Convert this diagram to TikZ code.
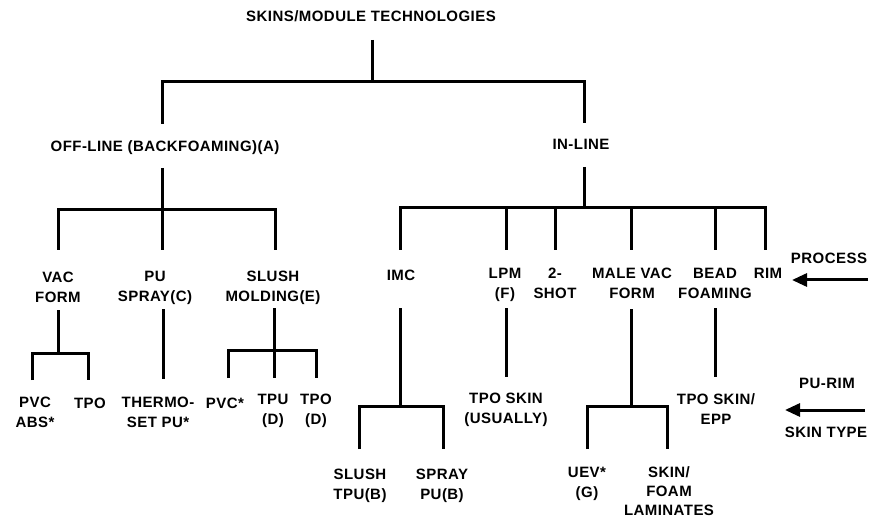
\documentclass[tikz,border=0pt]{standalone}
\usepackage{fontspec}
\setmainfont{Liberation Sans}[LetterSpace=3]
\usetikzlibrary{arrows.meta}
\begin{document}
\begin{tikzpicture}[x=1pt,y=-1pt,
  lbl/.style={font=\fontsize{15}{20}\selectfont\bfseries, align=center, inner sep=0pt, anchor=north},
  ln/.style={line width=3pt, line join=miter},
  arr/.style={line width=3pt, -{Triangle[length=15pt,width=13pt]}}]
\useasboundingbox (0,0) rectangle (869,518);
% labels
\node[lbl] (title) at (371,10) {SKINS/MODULE TECHNOLOGIES};
\node[lbl] (offline) at (165,140) {OFF-LINE (BACKFOAMING)(A)};
\node[lbl] (inline) at (581,139) {IN-LINE};
\node[lbl] (vac) at (58,272) {VAC\\FORM};
\node[lbl] (pus) at (155,271) {PU\\SPRAY(C)};
\node[lbl] (slush) at (273,271) {SLUSH\\MOLDING(E)};
\node[lbl] (imc) at (401,270) {IMC};
\node[lbl] (lpm) at (505,268) {LPM\\(F)};
\node[lbl] (shot) at (555,268) {2-\\SHOT};
\node[lbl] (male) at (632,268) {MALE VAC\\FORM};
\node[lbl] (bead) at (715,268) {BEAD\\FOAMING};
\node[lbl] (rim) at (768,268) {RIM};
\node[lbl] (process) at (829,253) {PROCESS};
\node[lbl] (pvcabs) at (35,397) {PVC\\ABS*};
\node[lbl] (tpoa) at (90,398) {TPO};
\node[lbl] (thermo) at (158,397) {THERMO-\\SET PU*};
\node[lbl] (pvcb) at (225,398) {PVC*};
\node[lbl] (tpu) at (273,394) {TPU\\(D)};
\node[lbl] (tpob) at (316,394) {TPO\\(D)};
\node[lbl] (slushtpu) at (360,469) {SLUSH\\TPU(B)};
\node[lbl] (spraypu) at (442,469) {SPRAY\\PU(B)};
\node[lbl] (tposkin) at (506,393) {TPO SKIN\\(USUALLY)};
\node[lbl] (uev) at (587,467) {UEV*\\(G)};
\node[lbl, font=\fontsize{15}{19}\selectfont\bfseries] (skinfoam) at (669,466) {SKIN/\\FOAM\\LAMINATES};
\node[lbl] (tpoepp) at (716,393) {TPO SKIN/\\EPP};
\node[lbl] (purim) at (827,378) {PU-RIM};
\node[lbl] (skintype) at (826,427) {SKIN TYPE};
% coordinates
\coordinate (t0) at (372,40); \coordinate (t1) at (372,82);
\coordinate (hl) at (162,82); \coordinate (hr) at (584,82);
\coordinate (offtop) at (162,124); \coordinate (intop) at (584,123);
\coordinate (o0) at (162,168); \coordinate (oL) at (58,210); \coordinate (oR) at (275,210);
\coordinate (a1) at (58,250); \coordinate (a2) at (162,250); \coordinate (a3) at (275,250);
\coordinate (i0) at (584,167); \coordinate (i1) at (584,208);
\coordinate (iL) at (400,208); \coordinate (iR) at (765,208);
\coordinate (b1) at (400,250); \coordinate (b2) at (506,250); \coordinate (b3) at (555,250);
\coordinate (b4) at (631,250); \coordinate (b5) at (715,250); \coordinate (b6) at (765,250);
\coordinate (v0) at (58,310); \coordinate (v1) at (58,353);
\coordinate (vL) at (32,353); \coordinate (vR) at (88,353);
\coordinate (v2) at (32,380); \coordinate (v3) at (88,380);
\coordinate (p0) at (163,309); \coordinate (p1) at (163,379);
\coordinate (s0) at (274,308); \coordinate (sL) at (228,350); \coordinate (sR) at (316,350);
\coordinate (s1) at (228,378); \coordinate (s2) at (274,378); \coordinate (s3) at (316,378);
\coordinate (m0) at (400,308); \coordinate (m1) at (400,406);
\coordinate (mL) at (359,406); \coordinate (mR) at (443,406);
\coordinate (m2) at (359,449); \coordinate (m3) at (443,449);
\coordinate (l0) at (506,308); \coordinate (l1) at (506,377);
\coordinate (q0) at (631,309); \coordinate (q1) at (631,406);
\coordinate (qL) at (587,406); \coordinate (qR) at (667,406);
\coordinate (q2) at (587,449); \coordinate (q3) at (667,449);
\coordinate (e0) at (715,308); \coordinate (e1) at (715,377);
\coordinate (ar1s) at (868,280); \coordinate (ar1e) at (792,280);
\coordinate (ar2s) at (865,410); \coordinate (ar2e) at (785,410);
% connectors
\draw[ln] (t0) -- (t1);
\draw[ln] (offtop) -- (hl) -- (hr) -- (intop);
\draw[ln] (o0) -- (a2);
\draw[ln] (a1) -- (oL) -- (oR) -- (a3);
\draw[ln] (i0) -- (i1);
\draw[ln] (b1) -- (iL) -- (iR) -- (b6);
\foreach \b in {b2,b3,b4,b5} \draw[ln] (\b) -- (\b |- iL);
\draw[ln] (v0) -- (v1);
\draw[ln] (v2) -- (vL) -- (vR) -- (v3);
\draw[ln] (p0) -- (p1);
\draw[ln] (s0) -- (s2);
\draw[ln] (s1) -- (sL) -- (sR) -- (s3);
\draw[ln] (m0) -- (m1);
\draw[ln] (m2) -- (mL) -- (mR) -- (m3);
\draw[ln] (l0) -- (l1);
\draw[ln] (q0) -- (q1);
\draw[ln] (q2) -- (qL) -- (qR) -- (q3);
\draw[ln] (e0) -- (e1);
\draw[arr] (ar1s) -- (ar1e);
\draw[arr] (ar2s) -- (ar2e);
\end{tikzpicture}
\end{document}
